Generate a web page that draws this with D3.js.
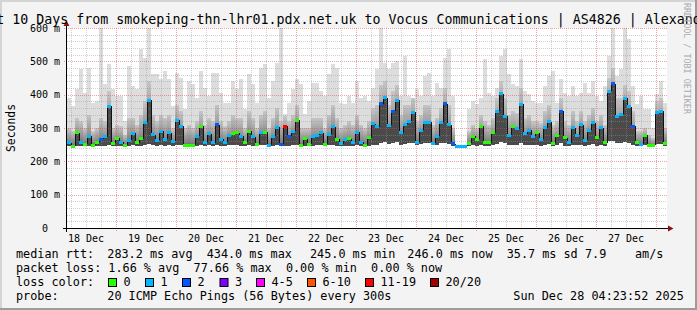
<!DOCTYPE html>
<html>
<head>
<meta charset="utf-8">
<script src="https://cdn.jsdelivr.net/npm/d3@7"></script>
<style>
  html, body { margin: 0; padding: 0; background: #f3f3f3; }
  svg { display: block; font-family: "DejaVu Sans Mono", monospace; }
</style>
</head>
<body>
<svg id="chart" width="697" height="310"></svg>
<script>
// one value every 96 minutes, 18 Dec 04:23 -> 28 Dec 04:23 (ms)
var medianRtt = [
  256,246,286,256,251,276,248,258,266,274,366,254,270,258,248,263,284,256,268,318,
  384,280,264,290,266,286,261,323,306,248,248,248,276,306,258,283,256,310,
  266,258,278,283,286,276,258,291,274,251,286,288,248,276,303,251,306,276,291,323,
  248,268,251,276,278,286,251,281,304,266,253,266,268,258,288,258,248,271,
  313,304,373,391,308,351,384,286,312,321,348,258,294,316,318,254,276,318,373,310,
  253,245,245,245,254,276,266,306,258,256,286,351,403,336,278,304,298,
  371,283,294,276,286,266,301,319,254,279,351,271,256,301,278,310,264,294,316,271,
  301,256,411,433,336,341,389,364,306,256,251,279,248,248,348,351,253
];
// lost pings out of 20
var lossCount = [
  1,0,0,1,0,1,0,0,2,1,1,0,0,1,0,1,1,0,0,1,
  1,1,1,1,1,1,1,1,1,0,0,0,1,0,1,1,1,2,
  1,1,1,0,0,1,0,0,1,0,1,0,1,1,1,2,12,2,1,0,
  0,0,0,1,1,1,0,1,1,0,1,1,0,1,1,1,0,0,
  1,1,2,1,1,2,1,1,1,1,1,1,1,1,1,1,1,1,2,1,
  2,1,1,1,0,0,0,0,0,0,0,1,1,1,1,0,1,
  1,1,1,1,0,1,1,1,0,0,2,0,1,1,1,1,1,1,1,0,
  1,0,1,2,1,1,1,1,2,0,1,0,0,0,1,1,0
];
var smokeMax = [
  391,366,416,476,406,481,376,380,600,431,491,416,396,396,320,486,426,416,536,511,
  600,461,461,446,471,446,366,466,451,356,441,431,391,471,421,396,466,466,
  406,376,376,441,416,446,356,461,431,376,481,491,391,441,496,600,341,376,416,446,
  431,341,381,436,436,411,396,461,491,481,376,371,396,376,441,391,396,381,
  421,476,600,496,476,496,501,396,516,396,386,416,396,456,466,396,436,421,511,536,
  396,245,245,245,356,381,371,391,506,406,396,421,516,536,461,431,426,
  506,411,401,381,376,376,426,456,471,376,446,406,396,426,396,406,436,406,441,396,
  381,426,516,600,456,476,600,566,426,371,396,356,356,300,401,441,376
];
var smokeUpper = [
  300,290,330,320,300,340,290,300,330,320,410,300,310,305,280,330,330,310,340,380,
  440,340,320,340,330,340,300,370,350,300,310,300,320,350,310,330,320,370,
  320,305,320,340,330,330,300,350,330,300,340,350,300,330,360,320,335,320,340,370,
  300,300,300,330,330,330,300,340,370,330,300,310,320,310,340,310,300,320,
  360,370,430,440,370,410,430,340,370,370,390,320,340,370,370,310,330,360,420,370,
  300,245,245,245,290,310,300,340,320,310,330,390,440,390,340,350,345,
  420,330,340,320,320,315,350,370,310,320,390,320,310,350,320,350,320,340,360,320,
  340,310,450,480,390,390,430,410,350,290,290,300,280,270,380,390,300
];
var smokeMin = [
  246,244,246,246,245,246,244,246,246,246,250,246,246,246,244,246,248,246,246,250,
  252,248,246,248,246,248,246,250,250,244,244,244,246,250,246,248,246,250,
  246,246,248,248,248,246,246,248,246,246,248,248,244,246,250,246,246,246,248,250,
  244,246,246,246,248,248,246,248,250,246,246,246,246,246,248,246,244,246,
  250,250,256,258,252,256,258,250,252,254,256,248,252,254,256,248,250,254,256,252,
  246,245,245,245,246,248,246,250,246,246,248,252,258,254,250,250,250,
  256,250,250,248,248,246,250,252,246,248,254,246,246,250,248,250,246,250,252,246,
  250,246,260,262,254,254,258,256,250,246,246,248,244,244,252,252,246
];
var yTicks = [0, 100, 200, 300, 400, 500, 600];
var lossLabels = ['0', '1', '2', '3', '4-5', '6-10', '11-19', '20/20'];
var lossUpTo = [0, 1, 2, 3, 5, 10, 19, 20];
var lossColors = ['#26ff00', '#00b8ff', '#0059ff', '#7e00ff', '#ff00ff', '#ff5500', '#ff0000', '#a00000'];

var startTime = new Date(2025, 11, 18, 4, 23, 52);
var endTime = new Date(2025, 11, 28, 4, 23, 52);
var stepMinutes = 96;

var plotLeft = 67, plotRight = 667, plotTop = 28, plotBottom = 228;
var svg = d3.select('#chart');

// frame
svg.append('rect').attr('width', 697).attr('height', 310).attr('fill', '#f3f3f3');
svg.append('rect').attr('x', 0).attr('y', 0).attr('width', 697).attr('height', 2).attr('fill', '#d4d4d4');
svg.append('rect').attr('x', 0).attr('y', 0).attr('width', 2).attr('height', 310).attr('fill', '#d4d4d4');
svg.append('rect').attr('x', 0).attr('y', 308).attr('width', 697).attr('height', 2).attr('fill', '#9c9c9c');
svg.append('rect').attr('x', 695).attr('y', 0).attr('width', 2).attr('height', 310).attr('fill', '#9c9c9c');

var defs = svg.append('defs');
var grad = defs.append('linearGradient').attr('id', 'smokeMid')
  .attr('x1', 0).attr('y1', 1).attr('x2', 0).attr('y2', 0);
grad.append('stop').attr('offset', 0).attr('stop-color', '#6e6e6e');
grad.append('stop').attr('offset', 1).attr('stop-color', '#c6c6c6');

var x = d3.scaleTime().domain([startTime, endTime]).range([plotLeft, plotRight]);
var y = d3.scaleLinear().domain([0, 600]).range([plotBottom, plotTop]);

svg.append('rect').attr('x', plotLeft).attr('y', plotTop)
  .attr('width', plotRight - plotLeft).attr('height', plotBottom - plotTop).attr('fill', '#ffffff');

var slots = medianRtt.map(function (m, i) {
  return {
    t0: d3.timeMinute.offset(startTime, i * stepMinutes),
    t1: d3.timeMinute.offset(startTime, (i + 1) * stepMinutes),
    med: m, loss: lossCount[i], lo: smokeMin[i], up: smokeUpper[i], hi: smokeMax[i]
  };
});

var plot = svg.append('g').attr('shape-rendering', 'crispEdges');

function smoke(topKey, color) {
  plot.append('g').selectAll('rect').data(slots).join('rect')
    .attr('x', function (d) { return x(d.t0); })
    .attr('width', function (d) { return x(d.t1) - x(d.t0); })
    .attr('y', function (d) { return y(d[topKey]); })
    .attr('height', function (d) { return Math.max(0, y(d.lo) - y(d[topKey])); })
    .attr('fill', color);
}
smoke('hi', '#dddddd');
smoke('up', 'url(#smokeMid)');
smoke('med', '#4a4a4a');

// grid
var grid = svg.append('g').attr('shape-rendering', 'crispEdges').attr('fill', 'none');
var minorY = d3.range(20, 600, 20).filter(function (v) { return v % 100 !== 0; });
grid.selectAll('.gy').data(minorY).join('line')
  .attr('x1', plotLeft).attr('x2', plotRight)
  .attr('y1', function (v) { return Math.round(y(v)) + 0.5; })
  .attr('y2', function (v) { return Math.round(y(v)) + 0.5; })
  .attr('stroke', 'rgba(150,150,150,0.45)').attr('stroke-dasharray', '1,1');
var sixHours = d3.timeHour.every(6).range(startTime, endTime).filter(function (t) { return t.getHours() !== 0; });
grid.selectAll('.gx').data(sixHours).join('line')
  .attr('x1', function (t) { return Math.round(x(t)) + 0.5; })
  .attr('x2', function (t) { return Math.round(x(t)) + 0.5; })
  .attr('y1', plotTop).attr('y2', plotBottom)
  .attr('stroke', 'rgba(150,150,150,0.45)').attr('stroke-dasharray', '1,1');
grid.selectAll('.my').data(yTicks.slice(1)).join('line')
  .attr('x1', plotLeft - 3).attr('x2', plotRight)
  .attr('y1', function (v) { return Math.round(y(v)) + 0.5; })
  .attr('y2', function (v) { return Math.round(y(v)) + 0.5; })
  .attr('stroke', 'rgba(225,70,70,0.5)').attr('stroke-dasharray', '1,1');
var days = d3.timeDay.range(startTime, endTime);
grid.selectAll('.mx').data(days).join('line')
  .attr('x1', function (t) { return Math.round(x(t)) + 0.5; })
  .attr('x2', function (t) { return Math.round(x(t)) + 0.5; })
  .attr('y1', plotTop).attr('y2', plotBottom + 3)
  .attr('stroke', 'rgba(225,70,70,0.5)').attr('stroke-dasharray', '1,1');

// median line
function lossColor(n) {
  for (var i = 0; i < lossUpTo.length; i++) if (n <= lossUpTo[i]) return lossColors[i];
  return lossColors[lossColors.length - 1];
}
var med = svg.append('g').attr('shape-rendering', 'crispEdges');
med.selectAll('line').data(slots.slice(1)).join('line')
  .attr('x1', function (d) { return Math.round(x(d.t0)) + 0.5; })
  .attr('x2', function (d) { return Math.round(x(d.t0)) + 0.5; })
  .attr('y1', function (d, i) { return y(slots[i].med); })
  .attr('y2', function (d) { return y(d.med); })
  .attr('stroke', '#111').attr('stroke-width', 1);
med.selectAll('rect').data(slots).join('rect')
  .attr('x', function (d) { return x(d.t0); })
  .attr('width', function (d) { return x(d.t1) - x(d.t0); })
  .attr('y', function (d) { return y(d.med) - 1.5; })
  .attr('height', 3)
  .attr('fill', function (d) { return lossColor(d.loss); });

// axes
var axes = svg.append('g').attr('shape-rendering', 'crispEdges');
axes.append('line').attr('x1', plotLeft - 4).attr('x2', plotRight + 2)
  .attr('y1', plotBottom + 0.5).attr('y2', plotBottom + 0.5).attr('stroke', '#000');
axes.append('line').attr('x1', plotLeft - 0.5).attr('x2', plotLeft - 0.5)
  .attr('y1', plotBottom + 4).attr('y2', plotTop - 3).attr('stroke', '#000');
svg.append('path').attr('d', 'M668,225.5L673.5,228.5L668,231.5Z').attr('fill', '#8b1010');
svg.append('path').attr('d', 'M63.5,26L66.5,20.5L69.5,26Z').attr('fill', '#8b1010');

svg.append('g').selectAll('text').data(yTicks).join('text')
  .attr('x', function (v) { return v === 0 ? 48 : 60; })
  .attr('y', function (v) { return y(v) + 3.5; })
  .attr('text-anchor', 'end').attr('font-size', '10px').attr('fill', '#000')
  .text(function (v) { return v === 0 ? '0' : v + ' m'; });

var fmt = d3.timeFormat('%d %b');
svg.append('g').selectAll('text')
  .data(d3.timeDay.range(d3.timeDay.floor(startTime), endTime).filter(function (t) {
    return d3.timeHour.offset(t, 12) < endTime;
  }))
  .join('text')
  .attr('x', function (t) { return x(d3.timeHour.offset(t, 12)); })
  .attr('y', 241.5)
  .attr('text-anchor', 'middle').attr('font-size', '10px').attr('fill', '#000')
  .text(function (t) { return fmt(t); });

svg.append('text').attr('transform', 'translate(15,128) rotate(-90)')
  .attr('text-anchor', 'middle').attr('font-size', '11.4px').text('Seconds');

// title and watermark
svg.append('text').attr('x', 348.5).attr('y', 24).attr('text-anchor', 'middle')
  .attr('font-size', '13.3px').attr('fill', '#000')
  .text('Last 10 Days from smokeping-thn-lhr01.pdx.net.uk to Vocus Communications | AS4826 | Alexandria');
svg.append('text').attr('transform', 'translate(683.5,3) rotate(90)')
  .attr('font-size', '8.4px').attr('fill', '#ababab').text('RRDTOOL / TOBI OETIKER');

// legend
var legendRows = [
  [[16, 'median rtt:'], [107.3, '283.2 ms avg'], [206.7, '434.0 ms max'], [310, '245.0 ms min'],
   [407.3, '246.0 ms now'], [506.7, '35.7 ms sd'], [585, '7.9'], [635, 'am/s']],
  [[16, 'packet loss: 1.66 % avg  77.66 % max  0.00 % min  0.00 % now']],
  [[16, 'loss color:']],
  [[16, 'probe:'], [107.3, '20 ICMP Echo Pings (56 Bytes) every 300s'], [513.3, 'Sun Dec 28 04:23:52 2025']]
];
var legend = svg.append('g').attr('font-size', '11.8px').attr('fill', '#000');
legendRows.forEach(function (row, r) {
  row.forEach(function (item) {
    legend.append('text').attr('x', item[0]).attr('y', 258 + r * 14)
      .style('white-space', 'pre').text(item[1]);
  });
});
var boxX = [108.5, 145.5, 182.5, 220, 256.5, 307.5, 365.5, 430.5];
lossLabels.forEach(function (lab, i) {
  legend.append('rect').attr('x', boxX[i]).attr('y', 278.5).attr('width', 8).attr('height', 8)
    .attr('fill', lossColors[i]).attr('stroke', '#000').attr('stroke-width', 1);
  legend.append('text').attr('x', boxX[i] + 15).attr('y', 286).text(lab);
});
</script>
</body>
</html>
